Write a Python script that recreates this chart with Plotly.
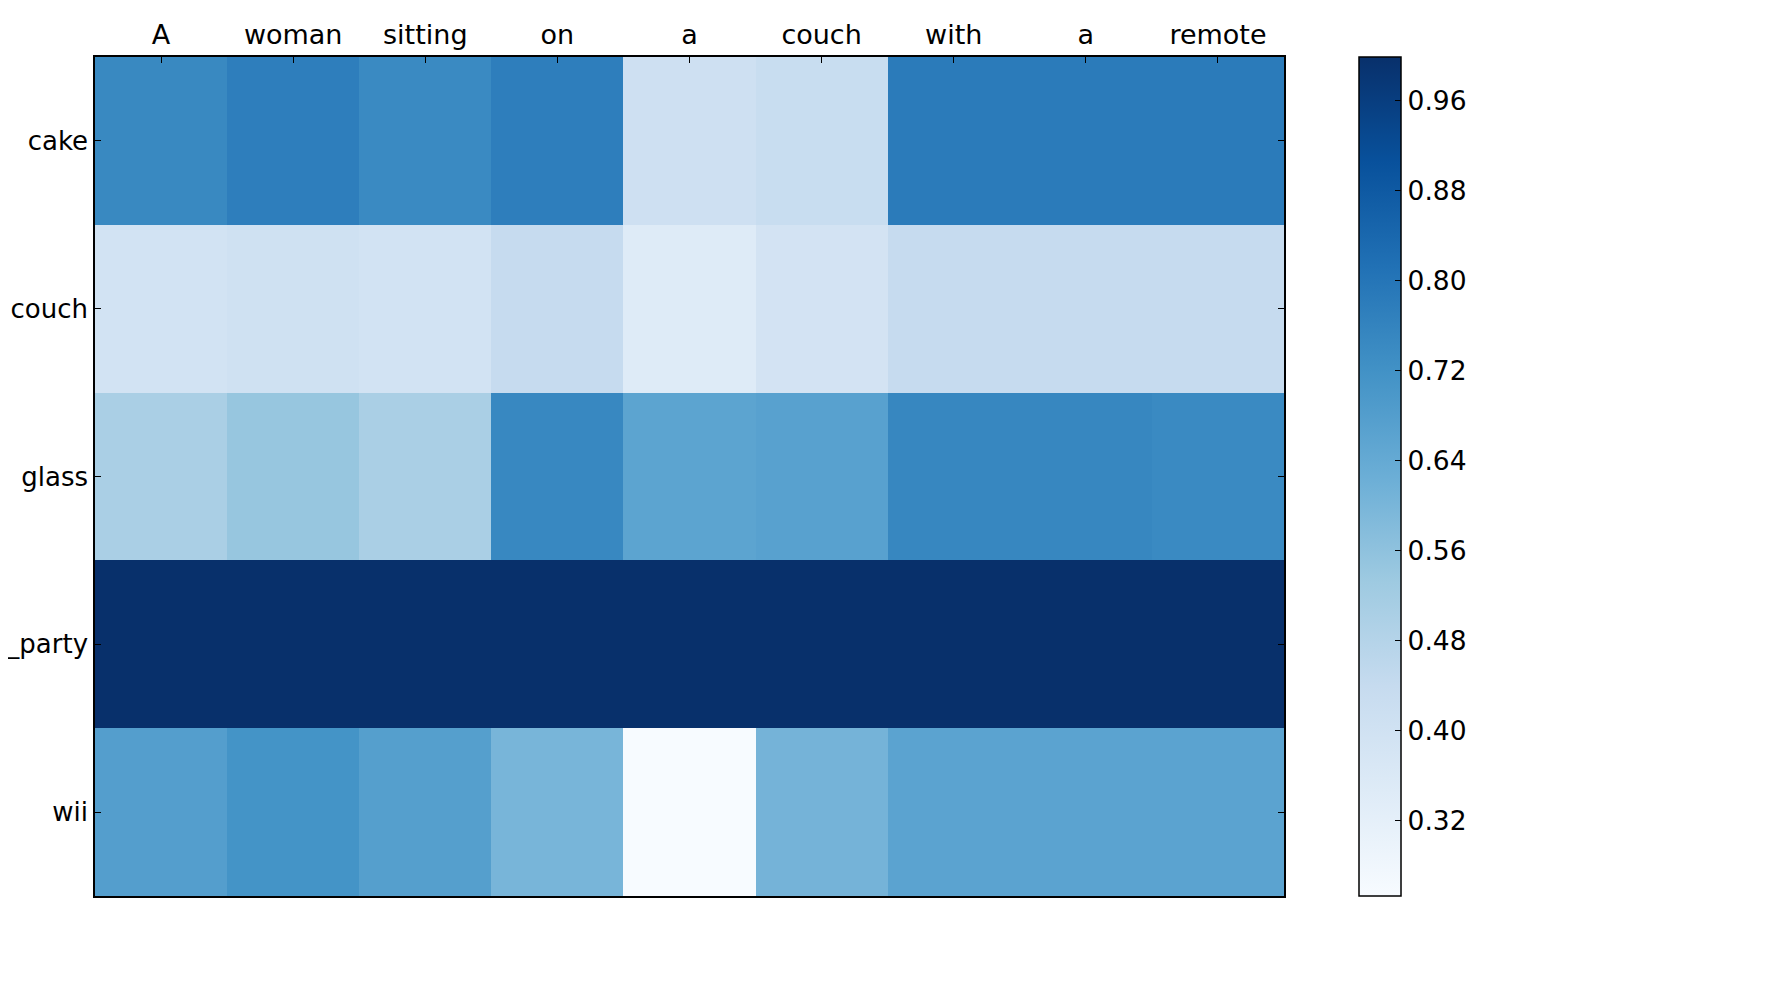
import plotly.graph_objects as go

# words of the caption (columns) and detected objects (rows)
words = ["A", "woman", "sitting", "on", "a", "couch", "with", "a", "remote"]
objects = ["cake", "couch", "glass", "_party", "wii"]

# attention scores, one list per object
cake = [0.745, 0.775, 0.743, 0.775, 0.410, 0.430, 0.785, 0.785, 0.785]
couch = [0.393, 0.404, 0.393, 0.440, 0.346, 0.390, 0.440, 0.440, 0.440]
glass = [0.505, 0.546, 0.505, 0.747, 0.660, 0.669, 0.750, 0.750, 0.743]
party = [0.999, 0.999, 0.999, 0.999, 0.999, 0.999, 0.999, 0.999, 0.999]
wii = [0.678, 0.714, 0.677, 0.603, 0.253, 0.608, 0.662, 0.662, 0.662]

cbar_ticks = [0.32, 0.40, 0.48, 0.56, 0.64, 0.72, 0.80, 0.88, 0.96]

# matplotlib "Blues" (ColorBrewer 9 colours)
blues = ["rgb(247,251,255)", "rgb(222,235,247)", "rgb(198,219,239)",
         "rgb(158,202,225)", "rgb(107,174,214)", "rgb(66,146,198)",
         "rgb(33,113,181)", "rgb(8,81,156)", "rgb(8,48,107)"]
colorscale = [[i / (len(blues) - 1), c] for i, c in enumerate(blues)]

z = [cake, couch, glass, party, wii]

fig = go.Figure()
fig.add_trace(go.Heatmap(
    z=z,
    x=list(range(len(words))),
    y=list(range(len(objects))),
    colorscale=colorscale,
    colorbar=dict(
        x=1.063,
        xanchor="left",
        y=0.5,
        yanchor="middle",
        len=1,
        thickness=42,
        xpad=0,
        ypad=0,
        outlinecolor="black",
        outlinewidth=1.5,
        tickvals=cbar_ticks,
        tickformat=".2f",
        ticks="inside",
        ticklen=6,
        tickcolor="black",
        tickfont=dict(size=26.5, color="black"),
    ),
))

# ticks only along the top of the frame
fig.update_xaxes(
    side="top",
    tickvals=list(range(len(words))),
    ticktext=words,
    range=[-0.5, len(words) - 0.5],
    ticks="inside",
    ticklen=6,
    tickcolor="black",
    tickfont=dict(size=27),
    showline=True,
    linecolor="black",
    linewidth=1.5,
    mirror=True,
    showgrid=False,
    zeroline=False,
    automargin=False,
)
fig.update_yaxes(
    tickvals=list(range(len(objects))),
    ticktext=objects,
    range=[len(objects) - 0.5, -0.5],
    ticks="inside",
    ticklen=6,
    tickcolor="black",
    tickfont=dict(size=26),
    showline=True,
    linecolor="black",
    linewidth=1.5,
    mirror="ticks",
    showgrid=False,
    zeroline=False,
    automargin=False,
)

fig.update_layout(
    width=1765,
    height=992,
    margin=dict(l=87, r=489, t=49, b=104),
    font=dict(family="DejaVu Sans", size=26, color="black"),
    plot_bgcolor="white",
    paper_bgcolor="white",
)

fig.write_html("out.html")
